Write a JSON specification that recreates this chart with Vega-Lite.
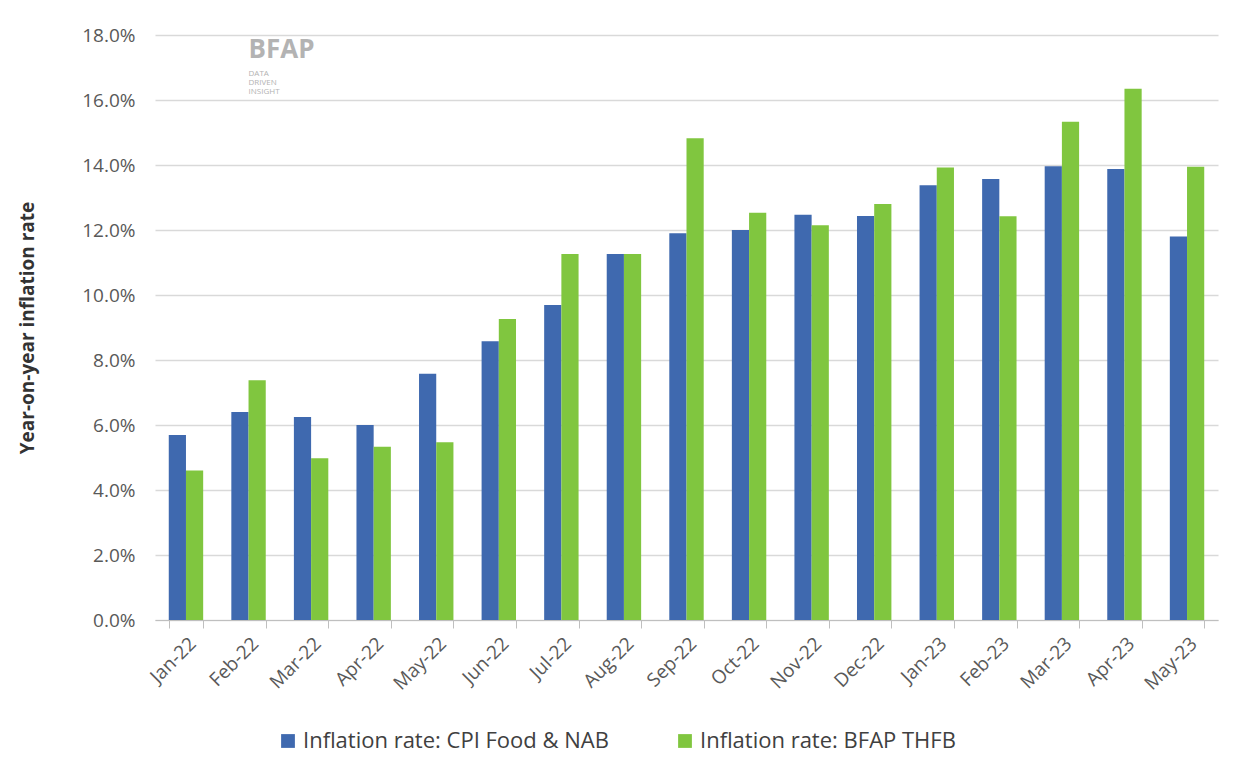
{
  "$schema": "https://vega.github.io/schema/vega-lite/v6.json",
  "width": 1063,
  "height": 585,
  "autosize": "none",
  "padding": {"left": 155, "top": 35, "right": 20, "bottom": 140},
  "background": "white",
  "config": {
    "font": "Open Sans",
    "view": {"stroke": null},
    "axis": {"labelFont": "Open Sans", "titleFont": "Open Sans"}
  },
  "data": {
    "values": [
      {"month": "Jan-22", "series": "Inflation rate: CPI Food & NAB", "value": 5.69},
      {"month": "Jan-22", "series": "Inflation rate: BFAP THFB", "value": 4.6},
      {"month": "Feb-22", "series": "Inflation rate: CPI Food & NAB", "value": 6.4},
      {"month": "Feb-22", "series": "Inflation rate: BFAP THFB", "value": 7.38},
      {"month": "Mar-22", "series": "Inflation rate: CPI Food & NAB", "value": 6.25},
      {"month": "Mar-22", "series": "Inflation rate: BFAP THFB", "value": 4.98},
      {"month": "Apr-22", "series": "Inflation rate: CPI Food & NAB", "value": 6.0},
      {"month": "Apr-22", "series": "Inflation rate: BFAP THFB", "value": 5.33},
      {"month": "May-22", "series": "Inflation rate: CPI Food & NAB", "value": 7.58},
      {"month": "May-22", "series": "Inflation rate: BFAP THFB", "value": 5.47},
      {"month": "Jun-22", "series": "Inflation rate: CPI Food & NAB", "value": 8.58},
      {"month": "Jun-22", "series": "Inflation rate: BFAP THFB", "value": 9.26},
      {"month": "Jul-22", "series": "Inflation rate: CPI Food & NAB", "value": 9.69},
      {"month": "Jul-22", "series": "Inflation rate: BFAP THFB", "value": 11.26},
      {"month": "Aug-22", "series": "Inflation rate: CPI Food & NAB", "value": 11.26},
      {"month": "Aug-22", "series": "Inflation rate: BFAP THFB", "value": 11.26},
      {"month": "Sep-22", "series": "Inflation rate: CPI Food & NAB", "value": 11.9},
      {"month": "Sep-22", "series": "Inflation rate: BFAP THFB", "value": 14.82},
      {"month": "Oct-22", "series": "Inflation rate: CPI Food & NAB", "value": 12.0},
      {"month": "Oct-22", "series": "Inflation rate: BFAP THFB", "value": 12.53},
      {"month": "Nov-22", "series": "Inflation rate: CPI Food & NAB", "value": 12.47},
      {"month": "Nov-22", "series": "Inflation rate: BFAP THFB", "value": 12.15},
      {"month": "Dec-22", "series": "Inflation rate: CPI Food & NAB", "value": 12.43},
      {"month": "Dec-22", "series": "Inflation rate: BFAP THFB", "value": 12.8},
      {"month": "Jan-23", "series": "Inflation rate: CPI Food & NAB", "value": 13.38},
      {"month": "Jan-23", "series": "Inflation rate: BFAP THFB", "value": 13.92},
      {"month": "Feb-23", "series": "Inflation rate: CPI Food & NAB", "value": 13.57},
      {"month": "Feb-23", "series": "Inflation rate: BFAP THFB", "value": 12.42},
      {"month": "Mar-23", "series": "Inflation rate: CPI Food & NAB", "value": 13.96},
      {"month": "Mar-23", "series": "Inflation rate: BFAP THFB", "value": 15.33},
      {"month": "Apr-23", "series": "Inflation rate: CPI Food & NAB", "value": 13.88},
      {"month": "Apr-23", "series": "Inflation rate: BFAP THFB", "value": 16.35},
      {"month": "May-23", "series": "Inflation rate: CPI Food & NAB", "value": 11.8},
      {"month": "May-23", "series": "Inflation rate: BFAP THFB", "value": 13.95}
    ]
  },
  "layer": [
    {
      "mark": {"type": "bar"},
      "encoding": {
        "x": {
          "field": "month",
          "type": "nominal",
          "sort": null,
          "scale": {"paddingInner": 0.45, "paddingOuter": 0.22},
          "axis": {
            "title": null,
            "labelAngle": -45,
            "labelFontSize": 19,
            "labelColor": "#595959",
            "labelPadding": 6,
            "tickBand": "extent",
            "tickColor": "#BFBFBF",
            "tickSize": 8,
            "domainColor": "#BFBFBF",
            "grid": false
          }
        },
        "xOffset": {
          "field": "series",
          "type": "nominal",
          "scale": {"domain": ["Inflation rate: CPI Food & NAB", "Inflation rate: BFAP THFB"]}
        },
        "y": {
          "field": "value",
          "type": "quantitative",
          "scale": {"domain": [0, 18], "nice": false},
          "axis": {
            "title": "Year-on-year inflation rate",
            "titleFontSize": 19,
            "titleFontWeight": "bold",
            "titleColor": "#333333",
            "titlePadding": 44,
            "values": [0, 2, 4, 6, 8, 10, 12, 14, 16, 18],
            "labelExpr": "format(datum.value, '.1f') + '%'",
            "labelFontSize": 19,
            "labelColor": "#595959",
            "labelPadding": 20,
            "domain": false,
            "ticks": false,
            "gridColor": "#D9D9D9",
            "gridWidth": 1.5
          }
        },
        "color": {
          "field": "series",
          "type": "nominal",
          "scale": {
            "domain": ["Inflation rate: CPI Food & NAB", "Inflation rate: BFAP THFB"],
            "range": ["#3F69AF", "#80C63F"]
          },
          "legend": {
            "title": null,
            "orient": "none",
            "legendX": 122,
            "legendY": 695,
            "direction": "horizontal",
            "symbolType": "square",
            "symbolSize": 190,
            "symbolStrokeWidth": 0,
            "labelFontSize": 22,
            "labelLimit": 500,
            "labelColor": "#404040",
            "columnPadding": 65
          }
        }
      }
    },
    {
      "mark": {"type": "text", "align": "left", "baseline": "alphabetic", "fontSize": 26, "fontWeight": "bold", "color": "#B3B3B3"},
      "data": {"values": [{"month": "Feb-22", "v": 17.3, "t": "BFAP"}]},
      "encoding": {
        "x": {"field": "month", "type": "nominal", "sort": null},
        "y": {"field": "v", "type": "quantitative"},
        "text": {"field": "t"}
      }
    },
    {
      "mark": {"type": "text", "align": "left", "baseline": "top", "fontSize": 8, "color": "#B3B3B3", "lineHeight": 9},
      "data": {"values": [{"month": "Feb-22", "v": 16.93, "t": ["DATA", "DRIVEN", "INSIGHT"]}]},
      "encoding": {
        "x": {"field": "month", "type": "nominal", "sort": null},
        "y": {"field": "v", "type": "quantitative"},
        "text": {"field": "t"}
      }
    }
  ]
}
